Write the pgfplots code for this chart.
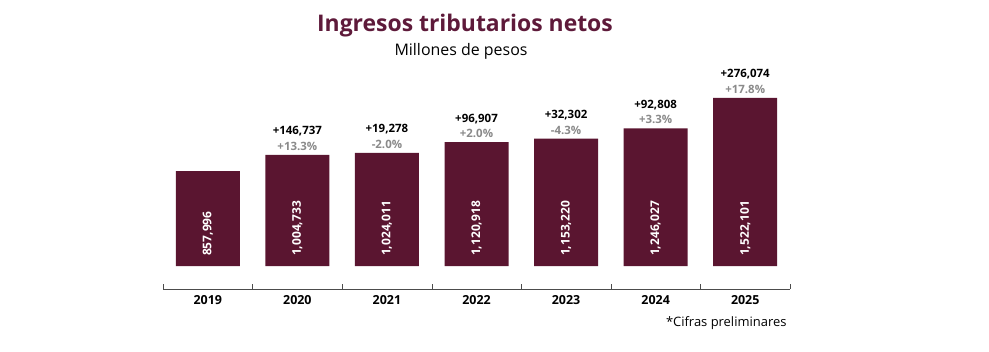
\documentclass[border=0pt]{standalone}
\usepackage{pgfplots}
\pgfplotsset{compat=1.18}
\usepackage{fontspec}
\setmainfont{Open Sans}
\definecolor{barc}{HTML}{5A1530}
\definecolor{titc}{HTML}{5E1A3A}
\definecolor{grayc}{HTML}{8A8A8A}
\begin{document}
\begin{tikzpicture}
\useasboundingbox (0,0) rectangle (989bp,352bp);
\node[font=\fontsize{23}{25}\selectfont\bfseries, text=titc] at (465bp,{(352-26)*1bp}) {Ingresos tributarios netos};
\node[font=\fontsize{16}{18}\selectfont, text=black] at (461bp,{(352-51)*1bp}) {Millones de pesos};
\node[font=\fontsize{13}{15}\selectfont, anchor=east] at (790bp,{(352-323)*1bp}) {*Cifras preliminares};
\begin{axis}[
  at={(163bp,63bp)}, anchor=south west,
  scale only axis, width=627bp, height=229bp,
  xmin=-0.5, xmax=6.5, ymin=-208000, ymax=1864000,
  axis x line=bottom, axis y line=none,
  axis line style={black!70, -},
  xtick={0,...,6},
  xticklabels={2019,2020,2021,2022,2023,2024,2025},
  xticklabel style={font=\fontsize{12.5}{14}\selectfont\bfseries, yshift=-3bp},
  major tick length=0pt,
  extra x ticks={-0.5,0.5,...,6.5},
  extra x tick labels={},
  extra x tick style={major tick length=5bp, tick align=inside, tick style={black!70}},
  clip=false,
]
\addplot[ybar, bar width=64bp, fill=barc, draw=none] coordinates {
(0,857996) (1,1004733) (2,1024011) (3,1120918) (4,1153220) (5,1246027) (6,1522101)};
\foreach \i/\v/\t in {0/857996/{857,996},1/1004733/{1,004,733},2/1024011/{1,024,011},3/1120918/{1,120,918},4/1153220/{1,153,220},5/1246027/{1,246,027},6/1522101/{1,522,101}}{
  \edef\tmp{\noexpand\node[rotate=90, anchor=west, text=white, font=\noexpand\fontsize{12}{13}\noexpand\selectfont\noexpand\bfseries, inner sep=0pt] at (axis cs:\i,90000) {\t};}
  \tmp
}
\foreach \i/\v/\a/\p in {1/1004733/{+146,737}/{+13.3\%},2/1024011/{+19,278}/{-2.0\%},3/1120918/{+96,907}/{+2.0\%},4/1153220/{+32,302}/{-4.3\%},5/1246027/{+92,808}/{+3.3\%},6/1522101/{+276,074}/{+17.8\%}}{
  \edef\tmp{\noexpand\node[text=grayc, font=\noexpand\fontsize{11.5}{13}\noexpand\selectfont\noexpand\bfseries] at (axis cs:\i,\v) [yshift=8.5bp] {\p};
  \noexpand\node[text=black, font=\noexpand\fontsize{11.5}{13}\noexpand\selectfont\noexpand\bfseries] at (axis cs:\i,\v) [yshift=23.5bp] {\a};}
  \tmp
}
\end{axis}
\end{tikzpicture}
\end{document}
